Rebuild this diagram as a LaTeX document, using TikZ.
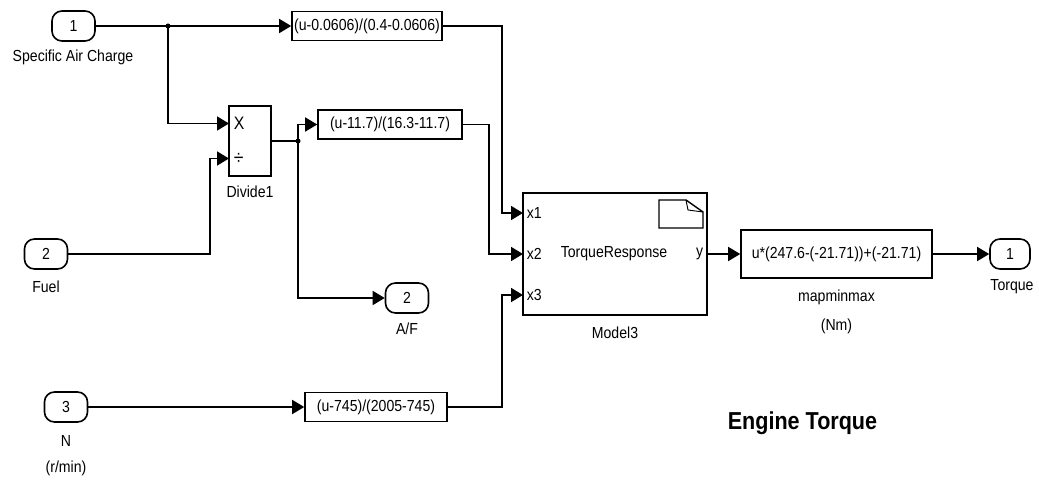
\documentclass[tikz,border=0pt]{standalone}
\usepackage{fontspec}
\setmainfont{Liberation Sans}[FakeStretch=0.88]
\usetikzlibrary{arrows.meta}
\begin{document}
\begin{tikzpicture}[x=1pt,y=-1pt,
  line width=1.6pt,
  every node/.style={font=\fontsize{16}{18}\selectfont, inner sep=0pt},
  port/.style={draw, rounded corners=10pt, minimum width=43pt, minimum height=30pt},
  blk/.style={draw, minimum height=29pt},
  arr/.style={-{Triangle[length=12pt,width=14pt]}},
  jdot/.style={circle, fill, inner sep=0pt, minimum size=5pt},
]
\useasboundingbox (0,0) rectangle (1039,484);

% inports / outports
\node[port] (in1) at (73.5,26) {1};
\node (l1) at (73,57) {Specific Air Charge};
\node[port] (in2) at (46,254) {2};
\node (l2) at (46,287) {Fuel};
\node[port] (in3) at (66,407) {3};
\node (l3a) at (66,441) {N};
\node (l3b) at (66,468) {(r/min)};
\node[port] (out2) at (407,298) {2};
\node (lo2) at (407,329) {A/F};
\node[port, minimum width=40pt] (out1) at (1010,254) {1};
\node (lo1) at (1012,287) {Torque};

% function blocks
\node[blk, minimum width=150pt] (f1) at (367,26) {(u-0.0606)/(0.4-0.0606)};
\node[blk, minimum width=144pt] (f2) at (390,124.5) {(u-11.7)/(16.3-11.7)};
\node[blk, minimum width=142pt] (f3) at (376,407) {(u-745)/(2005-745)};

% divide
\node[draw, minimum width=42pt, minimum height=70pt] (div) at (250,141) {};
\node[anchor=west, font=\fontsize{18}{20}\selectfont] (dxl) at (233,123.5) {X};
\node[anchor=west, font=\fontsize{20}{22}\selectfont] (ddl) at (233,158.5) {÷};
\node (ldiv) at (250,192) {Divide1};

% model
\node[draw, minimum width=184pt, minimum height=122pt] (model) at (615,254) {};
\node[anchor=west] (px1) at (526,213) {x1};
\node[anchor=west] (px2) at (526,254) {x2};
\node[anchor=west] (px3) at (526,295) {x3};
\node (mt) at (614,254) {TorqueResponse};
\node[anchor=east] (py) at (704,254) {y};
\node (lm) at (615,333) {Model3};
\draw[line width=1.4pt] (659,200) -- (686,200) -- (703,212) -- (703,228) -- (659,228) -- cycle;
\draw[line width=0.9pt] (686,200) -- (688,210) -- (703,212);

% mapminmax
\node[draw, minimum width=191pt, minimum height=48pt] (mm) at (836.5,254) {u*(247.6-(-21.71))+(-21.71)};
\node (lmm1) at (836.5,297) {mapminmax};
\node (lmm2) at (836.5,326) {(Nm)};

\node[anchor=west, font=\bfseries\fontsize{24.5}{27}\selectfont] (title) at (727,423) {Engine Torque};

% coordinates
\coordinate (d1) at (168,26);
\coordinate (d2) at (298,141);
\coordinate (dX) at (229,123.5);
\coordinate (dD) at (229,158.5);
\coordinate (j2) at (210,158.5);
\coordinate (b1) at (502,213);
\coordinate (b2) at (489,254);
\coordinate (b3) at (502,295);
\coordinate (mx1) at (523,213);
\coordinate (mx2) at (523,254);
\coordinate (mx3) at (523,295);

% connectors
\draw[arr] (in1.east) -- (f1.west);
\draw[arr] (d1) |- (dX);
\draw[arr] (in2.east) -| (j2) -- (dD);
\draw[arr] (div.east) -- (d2) |- (f2.west);
\draw[arr] (d2) |- (out2.west);
\draw[arr] (in3.east) -- (f3.west);
\draw[arr] (f1.east) -| (b1) -- (mx1);
\draw[arr] (f2.east) -| (b2) -- (mx2);
\draw[arr] (f3.east) -| (b3) -- (mx3);
\draw[arr] (model.east) -- (mm.west);
\draw[arr] (mm.east) -- (out1.west);

\node[jdot] at (d1) {};
\node[jdot] at (d2) {};
\end{tikzpicture}
\end{document}
